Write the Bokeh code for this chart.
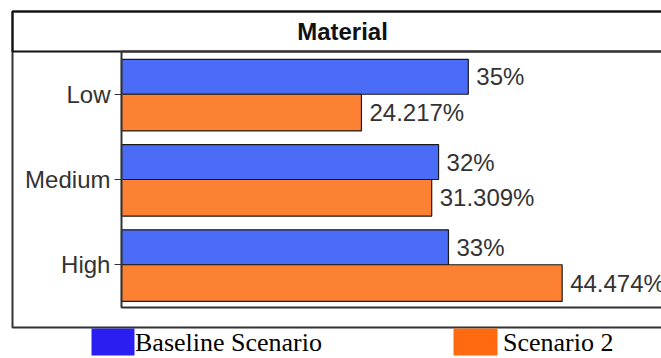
from bokeh.plotting import figure
from bokeh.models import (ColumnDataSource, FactorRange, Range1d, BoxAnnotation,
                          Label, Legend, LegendItem, CDSView, IndexFilter)
from bokeh.transform import dodge
from bokeh.embed import file_html
from bokeh.resources import INLINE
from bokeh.core.properties import value

# data
categories = ["Low", "Medium", "High"]
baseline = [35, 32, 33]
scenario2 = [24.217, 31.309, 44.474]
series_names = ["Baseline Scenario", "Scenario 2"]
chart_title = "Material"

W, H = 661, 358
SANS = "Liberation Sans"
SERIF = "Liberation Serif"
BAR_COLORS = ["#4a6cf7", "#fd8132"]
KEY_COLORS = ["#2a1ff0", "#ff6a10"]

src = ColumnDataSource(dict(
    cat=categories,
    base=baseline,
    s2=scenario2,
    base_lbl=[f"{v:g}%" for v in baseline],
    s2_lbl=[f"{v:g}%" for v in scenario2],
))

# the frame covers the whole canvas; ranges are padded so the bar area
# sits inside the boxed panel with room for the title row and legend
p = figure(width=W, height=H, output_backend="svg", toolbar_location=None,
           y_range=FactorRange(factors=list(reversed(categories)),
                               range_padding=0.6, range_padding_units="absolute"),
           x_range=Range1d(-12.21, 54.5),
           min_border=0)
p.background_fill_color = "white"
p.border_fill_color = "white"
p.outline_line_color = None
p.grid.visible = False
p.xaxis.visible = False

# bars: baseline above the category centre, scenario 2 below it
y_base = dodge("cat", 0.205, range=p.y_range)
y_s2 = dodge("cat", -0.215, range=p.y_range)
p.hbar(y=y_base, left=0, right="base", height=0.41, source=src,
       fill_color=BAR_COLORS[0], line_color="#1a1a1a", line_width=1.2)
p.hbar(y=y_s2, left=0, right="s2", height=0.43, source=src,
       fill_color=BAR_COLORS[1], line_color="#1a1a1a", line_width=1.2)

# value labels at the end of each bar
lbl_style = dict(x_offset=8, text_baseline="middle", text_align="left",
                 text_font=value(SANS), text_font_size="24px", text_color="#333333")
p.text(x="base", y=y_base, text="base_lbl", source=src, **lbl_style)
p.text(x="s2", y=y_s2, text="s2_lbl", source=src, **lbl_style)

# category axis pinned at x = 0 (its line comes from the plot box below)
ya = p.yaxis[0]
ya.fixed_location = 0
ya.major_label_text_font = SANS
ya.major_label_text_font_size = "24px"
ya.major_label_text_color = "#333333"
ya.major_tick_out = 7
ya.major_tick_in = 0
ya.major_tick_line_color = "#333333"
ya.major_label_standoff = 4
ya.axis_line_color = None

# outer frame, title row and plot box
box_kw = dict(left_units="canvas", right_units="canvas",
              top_units="canvas", bottom_units="canvas")
frame_kw = dict(fill_alpha=0, fill_color=None, line_alpha=1, **box_kw)
p.add_layout(BoxAnnotation(left=12, right=W + 20, top=11, bottom=327,
                           line_color="#333333", line_width=2, **frame_kw))
p.add_layout(BoxAnnotation(left=12, right=W + 20, top=11, bottom=51,
                           line_color="#111111", line_width=2, **frame_kw))
p.add_layout(BoxAnnotation(left=121, right=W + 20, top=51, bottom=307,
                           line_color="#333333", line_width=2, **frame_kw))

p.add_layout(Label(x=342, y=31, x_units="canvas", y_units="canvas", text=chart_title,
                   text_align="center", text_baseline="middle",
                   text_font=SANS, text_font_style="bold", text_font_size="24px",
                   text_color="#111111"))

# legend: labels from the Legend, colour keys as solid boxes in its glyph slots
no_rows = CDSView(filter=IndexFilter(indices=[]))
r_leg1 = p.hbar(y=y_base, left=0, right="base", height=0.41, source=src, view=no_rows,
                fill_color=KEY_COLORS[0], line_color=None)
r_leg2 = p.hbar(y=y_s2, left=0, right="s2", height=0.43, source=src,
                view=CDSView(filter=IndexFilter(indices=[])),
                fill_color=KEY_COLORS[1], line_color=None)
legend = Legend(items=[LegendItem(label=series_names[0], renderers=[r_leg1]),
                       LegendItem(label=series_names[1], renderers=[r_leg2])],
                location=(91, 0), orientation="horizontal",
                glyph_width=43, glyph_height=21, label_height=21, label_standoff=1,
                spacing=137, padding=0, margin=0,
                border_line_color=None, background_fill_alpha=0,
                label_text_font=SERIF, label_text_font_size="26px",
                label_text_color="#000000")
p.add_layout(legend)

key_kw = dict(fill_alpha=1, line_color=None, **box_kw)
p.add_layout(BoxAnnotation(left=91, right=134, top=328, bottom=355,
                           fill_color=KEY_COLORS[0], **key_kw))
p.add_layout(BoxAnnotation(left=453, right=497, top=328, bottom=355,
                           fill_color=KEY_COLORS[1], **key_kw))

open("out.html", "w").write(file_html(p, INLINE))
